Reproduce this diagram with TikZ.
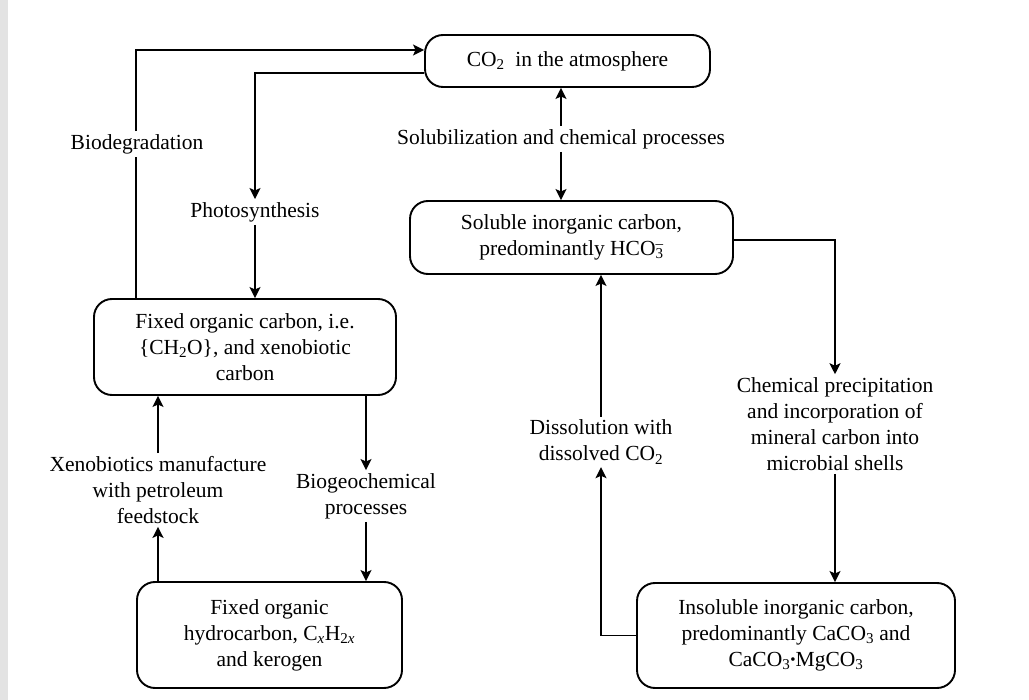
\documentclass[tikz,border=0pt]{standalone}
\usepackage{fontspec}
\setmainfont{Liberation Serif}
\usetikzlibrary{arrows.meta,calc}

\definecolor{stripgray}{RGB}{227,227,227}
\newcommand{\chsb}[1]{\textsubscript{#1}}
\newcommand{\chdot}{\raisebox{0.25ex}{\fontsize{15}{15}\selectfont\textbullet}}
\newcommand{\bicarb}{HCO\rlap{\textsuperscript{--}}\textsubscript{3}}

\begin{document}
\begin{tikzpicture}[x=1pt,y=-1pt,
  every node/.style={font=\fontsize{21.5}{26}\selectfont},
  box/.style={draw,line width=1.9pt,rounded corners=18pt,align=center,inner sep=0pt},
  lbl/.style={align=center,inner sep=3pt},
  conn/.style={line width=1.9pt},
  arr/.style={conn,-{Stealth[length=11pt,width=11pt,inset=2.5pt]}}]

% page and the grey strip on the left edge
\useasboundingbox (0,0) rectangle (1029,700);
\fill[white] (0,0) rectangle (1029,700);
\fill[stripgray] (0,0) rectangle (8,700);

% boxes
\node[box,minimum width=285pt,minimum height=52pt] (co2) at (567.5,61)
  {CO\chsb{2}\ \ in the atmosphere};
\node[box,minimum width=323pt,minimum height=73pt] (solu) at (571.5,237.5)
  {Soluble inorganic carbon,\\ predominantly \bicarb};
\node[box,minimum width=302pt,minimum height=96pt] (fixed) at (245,347)
  {Fixed organic carbon, i.e.\\ \{CH\chsb{2}O\}, and xenobiotic\\ carbon};
\node[box,minimum width=265pt,minimum height=106pt] (hydro) at (269.5,635)
  {Fixed organic\\ hydrocarbon, C\chsb{\textit{x}}H\chsb{2\textit{x}}\\ and kerogen};
\node[box,minimum width=318pt,minimum height=105pt] (insol) at (796,635.5)
  {Insoluble inorganic carbon,\\ predominantly CaCO\chsb{3} and\\ CaCO\chsb{3}\chdot MgCO\chsb{3}};

% process labels
\node[lbl] (bio) at (137,144) {Biodegradation};
\node[lbl] (photo) at (255,212) {Photosynthesis};
\node[lbl] (sol) at (561,139) {Solubilization and chemical processes};
\node[lbl] (prec) at (835,424) {Chemical precipitation\\ and incorporation of\\ mineral carbon into\\ microbial shells};
\node[lbl] (diss) at (601,442) {Dissolution with\\ dissolved CO\chsb{2}};
\node[lbl] (bgc) at (366,496) {Biogeochemical\\ processes};
\node[lbl] (xeno) at (158,490) {Xenobiotics manufacture\\ with petroleum\\ feedstock};

% corner points of the elbow connectors
\coordinate (bioTop) at (136,50);
\coordinate (phTop) at (255,73);
\coordinate (pcTop) at (835,240);
\coordinate (dsBot) at (601,635.5);

% biodegradation: fixed carbon back to the atmosphere
\draw[conn] (fixed.north -| bioTop) -- (bioTop |- bio.south);
\draw[arr] (bioTop |- bio.north) -- (bioTop) -- (bioTop -| co2.west);

% photosynthesis: atmosphere down to fixed carbon
\draw[arr] (phTop -| co2.west) -- (phTop) -- (phTop |- photo.north);
\draw[arr] (phTop |- photo.south) -- (phTop |- fixed.north);

% exchange between the atmosphere and dissolved carbon
\draw[arr] (sol.north) -- (sol.north |- co2.south);
\draw[arr] (sol.south) -- (sol.south |- solu.north);

% precipitation
\draw[arr] (solu.east |- pcTop) -- (pcTop) -- (prec.north);
\draw[arr] (prec.south) -- (prec.south |- insol.north);

% dissolution
\draw[arr] (insol.west |- dsBot) -- (dsBot) -- (diss.south);
\draw[arr] (diss.north) -- (diss.north |- solu.south);

% biogeochemical processes
\draw[arr] (bgc.north |- fixed.south) -- (bgc.north);
\draw[arr] (bgc.south) -- (bgc.south |- hydro.north);

% xenobiotics manufacture
\draw[arr] (xeno.south |- hydro.north) -- (xeno.south);
\draw[arr] (xeno.north) -- (xeno.north |- fixed.south);
\end{tikzpicture}
\end{document}
